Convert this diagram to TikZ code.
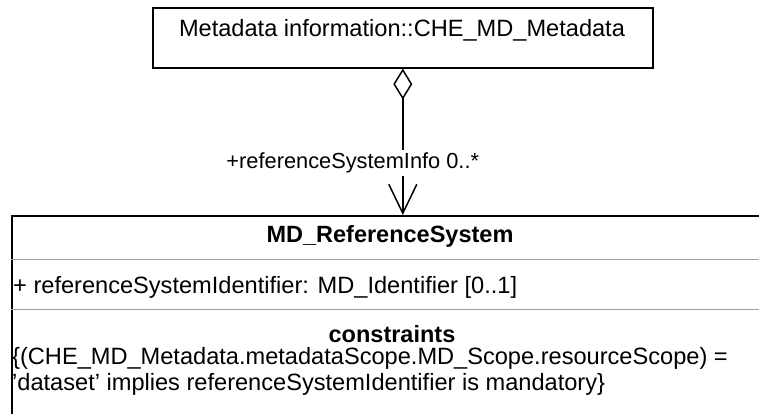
\documentclass[tikz,border=0pt]{standalone}
\usepackage{fontspec}
\setmainfont{Liberation Sans}
\usetikzlibrary{arrows.meta}
\begin{document}
\begin{tikzpicture}[x=1pt,y=-1pt,
  umlbox/.style={draw=black, line width=1.6pt, rectangle, inner sep=0pt},
  divider/.style={draw=black!38, line width=1.5pt},
  txt/.style={font=\fontsize{23.6}{28}\selectfont, inner sep=0pt},
  boldtxt/.style={font=\fontsize{23.5}{28}\selectfont\bfseries, inner sep=0pt},
  lbl/.style={font=\fontsize{21.8}{26}\selectfont, fill=white, inner xsep=1pt, inner ysep=3pt},
  assoc/.style={line width=1.5pt, {Diamond[open, length=31pt, width=19pt]}-{Straight Barb[length=29pt, width=28pt]}}]
\useasboundingbox (0,0) rectangle (759,414);
\clip (0,0) rectangle (759,414);
% top class
\node[umlbox, minimum width=500pt, minimum height=60pt, anchor=north west] (meta) at (152,7) {};
\node[txt, anchor=base] (metatxt) at (402,37) {Metadata information::CHE\_MD\_Metadata};
% bottom class
\node[umlbox, minimum width=760pt, minimum height=240pt, anchor=north west] (rs) at (11,215) {};
\coordinate (d1w) at (11,259.5);
\coordinate (d2w) at (11,309.5);
\draw[divider] (d1w) -- (d1w -| rs.east);
\draw[divider] (d2w) -- (d2w -| rs.east);
\node[boldtxt, anchor=base] (title) at (390,242) {MD\_ReferenceSystem};
\node[txt, anchor=base west] (attr) at (13,293) {+ referenceSystemIdentifier: MD\_Identifier [0..1]};
\node[boldtxt, anchor=base] (cons) at (392,342) {constraints};
\node[txt, anchor=base west] (c1) at (12,364) {\{(CHE\_MD\_Metadata.metadataScope.MD\_Scope.resourceScope) =};
\node[txt, anchor=base west] (c2) at (12,390) {'dataset' implies referenceSystemIdentifier is mandatory\}};
% association
\coordinate (rsin) at (meta.south |- rs.north);
\draw[assoc] (meta.south) -- (rsin)
  node[lbl, pos=0.682, anchor=base, xshift=-50pt] (role) {+referenceSystemInfo 0..*};
\end{tikzpicture}
\end{document}
